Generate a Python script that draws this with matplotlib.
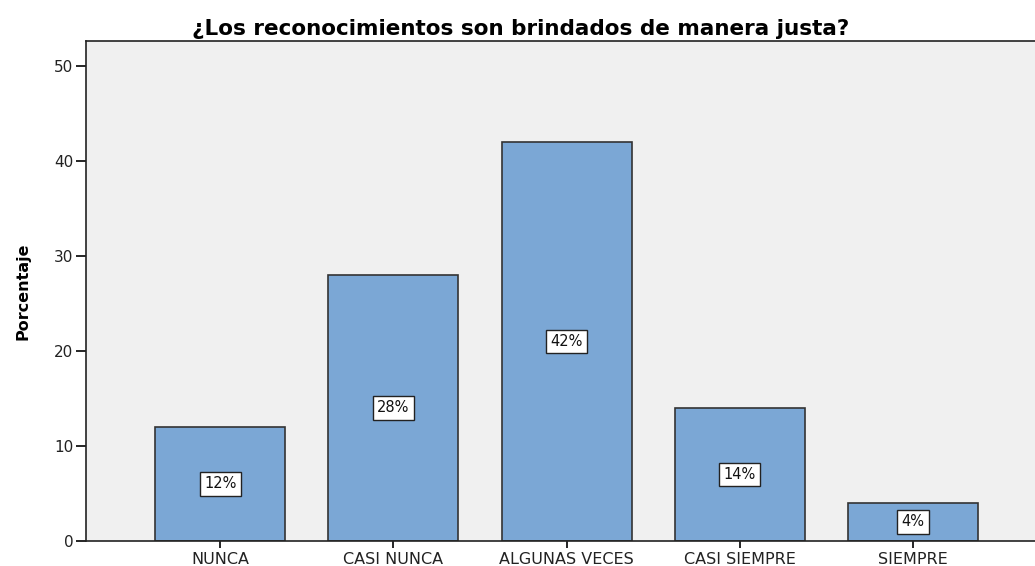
import matplotlib
matplotlib.use("Agg")
import matplotlib.pyplot as plt

categories = ["NUNCA", "CASI NUNCA", "ALGUNAS VECES", "CASI SIEMPRE", "SIEMPRE"]
values = [12, 28, 42, 14, 4]
labels = ["12%", "28%", "42%", "14%", "4%"]
yticks = [0, 10, 20, 30, 40, 50]

plt.rcParams['font.family'] = ['DejaVu Sans']

fig = plt.figure(figsize=(10.35, 5.66), dpi=100)
ax = fig.add_axes([86/1035, 1-541/566, 1-86/1035, (541-41)/566])
ax.set_facecolor("#F0F0F0")

x = list(range(len(categories)))
ax.bar(x, values, width=0.75, color="#7BA7D5", edgecolor="#333333", linewidth=1.2, zorder=2)
for xi, v, lab in zip(x, values, labels):
    ax.text(xi, v / 2, lab, ha="center", va="center", fontsize=10.5, color="#111111", zorder=3,
            bbox=dict(boxstyle="square,pad=0.3", facecolor="white", edgecolor="#222222", linewidth=1))

ax.set_xlim(-0.775, 4.705)
ax.set_ylim(0, 52.6)
ax.set_yticks(yticks)
ax.set_xticks(x)
ax.set_xticklabels(categories, fontsize=11.5, color="#222222")
ax.tick_params(axis="y", direction="out", length=7, width=1.2, labelsize=11, pad=2, labelcolor="#222222")
ax.tick_params(axis="x", direction="out", length=5, width=1.2, pad=3)
for s in ["left", "bottom", "top"]:
    ax.spines[s].set_linewidth(1.2)
    ax.spines[s].set_color("#222222")
ax.spines["right"].set_visible(False)

ax.set_ylabel("Porcentaje", fontsize=11.5, fontweight="bold", labelpad=17)
ax.set_title("¿Los reconocimientos son brindados de manera justa?", fontsize=15.5, fontweight="bold",
             x=(521 - 86) / 949, pad=4)

fig.savefig("out.png", dpi=100, facecolor="white")
